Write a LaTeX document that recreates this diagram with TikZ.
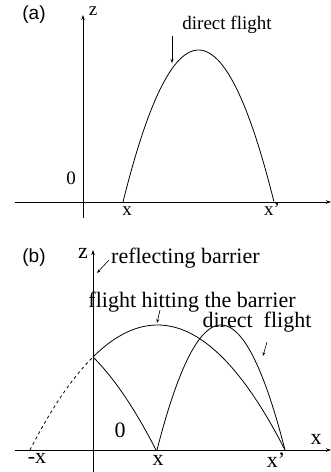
\documentclass[tikz,border=0pt]{standalone}
\usepackage{fontspec}
\setmainfont{Liberation Serif}
\setsansfont{Liberation Sans}
\usetikzlibrary{arrows.meta}

\tikzset{
  axis/.style={-{Stealth[length=5pt,width=3.5pt]}, line width=0.7pt},
  flight/.style={line width=0.8pt},
  pointer/.style={-{Stealth[length=4pt,width=3pt]}, line width=0.6pt},
  lbl/.style={inner sep=0pt, font=\fontsize{19}{19}\selectfont},
  lblb/.style={inner sep=0pt, font=\fontsize{22}{22}\selectfont},
  panel/.style={inner sep=0pt, font=\sffamily\fontsize{19}{19}\selectfont}
}

\begin{document}
\begin{tikzpicture}[x=1pt,y=1pt]
\useasboundingbox (0,0) rectangle (331,472);

% ---------- panel (a) ----------
\coordinate (xla) at (15,270);
\coordinate (xra) at (331,270);
\coordinate (zba) at (83,254);
\coordinate (zta) at (83,457);
\draw[axis] (xla) -- (xra);
\draw[axis] (zba) -- (zta);

% direct flight
\draw[flight] plot[domain=0:1, samples=60] ({123+151*\x}, {270+608*\x*(1-\x)});
\coordinate (hita) at (172,409);

\node[panel] (pa) at (34,457) {(a)};
\node[lbl] (za) at (93,461) {z};
\node[lbl] (oa) at (71,294) {0};
\node[lbl] (xa) at (127,261) {x};
\node[lbl] (xpa) at (272,263) {x'};
\node[lbl] (dfa) at (227,447) {direct flight};
\draw[pointer] (dfa.south -| hita) ++(0,-2) -- (hita);

% ---------- panel (b) ----------
\coordinate (xlb) at (15,22);
\coordinate (xrb) at (331,22);
\coordinate (zbb) at (93,0);
\coordinate (ztb) at (93,222);
\draw[axis] (xlb) -- (xrb);
\draw[axis] (zbb) -- (ztb);

% flight hitting the barrier (dashed beyond the barrier)
\draw[flight, dashed] plot[domain=0:0.247, samples=20] ({30+255*\x}, {22+500*\x*(1-\x)});
\draw[flight] plot[domain=0.247:1, samples=60] ({30+255*\x}, {22+500*\x*(1-\x)});
% reflected part
\draw[flight] plot[domain=0:0.247, samples=20] ({156-255*\x}, {22+500*\x*(1-\x)});
% direct flight
\draw[flight] plot[domain=0:1, samples=60] ({157+128*\x}, {22+500*\x*(1-\x)});

\coordinate (hitb) at (157,149);
\coordinate (dirb) at (263,116);
\coordinate (barb) at (97,199);

\node[panel] (pb) at (34,214) {(b)};
\node[lblb] (zb) at (83,219) {z};
\node[lblb, anchor=west] (rb) at (111,214) {reflecting barrier};
\node[lblb] (fhb) at (192,170) {flight hitting the barrier};
\node[lblb] (dfb) at (257,150) {direct\ \ flight};
\node[lblb] (ob) at (120,42) {0};
\node[lblb] (xab) at (316,33) {x};
\node[lblb] (mxb) at (37,14) {-x};
\node[lblb] (xb) at (158,12) {x};
\node[lblb] (xpb) at (276,12) {x'};

\draw[pointer] (rb.west) ++(-2,-2) -- (barb);
\draw[pointer] (160,162) -- (hitb);
\draw[pointer] (267,130) -- (dirb);
\end{tikzpicture}
\end{document}
